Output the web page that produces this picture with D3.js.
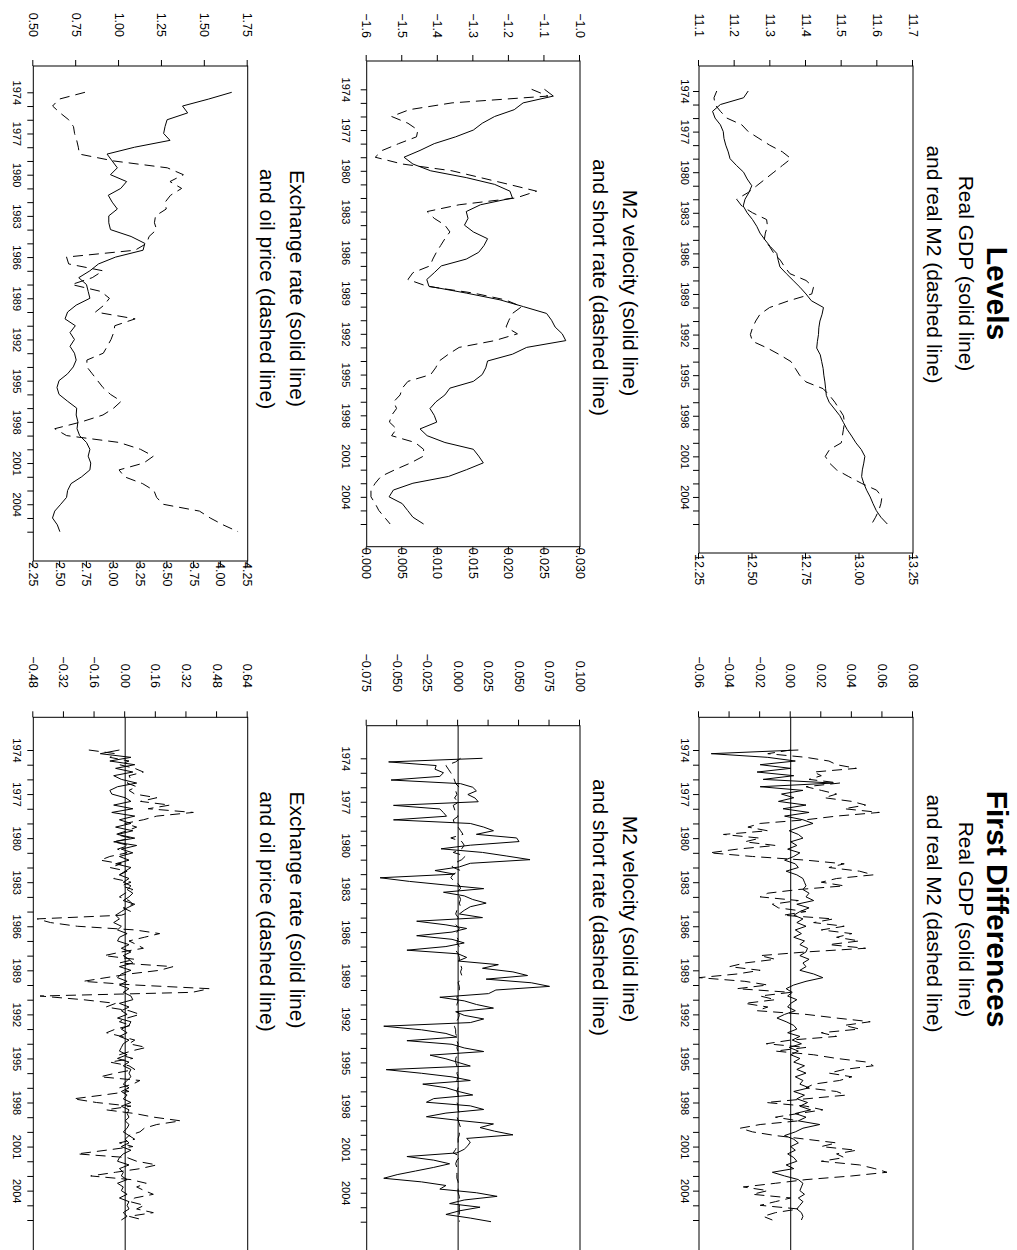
<!DOCTYPE html>
<html>
<head>
<meta charset="utf-8">
<script src="https://cdn.jsdelivr.net/npm/d3@7"></script>
<style>
body { margin:0; background:#fff; }
svg { display:block; }
text { font-family:"Liberation Sans", Arial, Helvetica, sans-serif; fill:#000; }
</style>
</head>
<body>
<div id="chart"></div>
<script>
// time axis: levels are read every half year, differences every quarter, both from 1974.0
const START = 1974;
const LEVEL_STEP = 0.5;
const DIFF_STEP = 0.25;
const yearTicks = d3.range(1974, 2007);
const yearLabels = d3.range(1974, 2005, 3);

// ---- levels ----
const gdpLevel = [11.238,11.225,11.16,11.138,11.145,11.16,11.168,11.17,11.175,11.182,11.187,11.205,11.225,11.235,
  11.248,11.24,11.229,11.224,11.235,11.25,11.262,11.271,11.285,11.3,11.318,11.322,11.327,11.345,11.364,11.383,
  11.4,11.415,11.449,11.445,11.439,11.436,11.435,11.432,11.43,11.44,11.444,11.448,11.45,11.453,11.455,11.457,
  11.465,11.48,11.495,11.505,11.515,11.528,11.54,11.555,11.565,11.562,11.558,11.556,11.562,11.57,11.58,11.588,
  11.597,11.61,11.628];
const m2Level = [12.333,12.32,12.325,12.35,12.38,12.45,12.48,12.53,12.58,12.64,12.68,12.64,12.6,12.56,12.52,12.48,
  12.426,12.45,12.5,12.566,12.57,12.56,12.555,12.58,12.6,12.63,12.65,12.675,12.75,12.785,12.777,12.67,12.58,
  12.535,12.515,12.5,12.49,12.5,12.57,12.628,12.68,12.7,12.72,12.75,12.83,12.86,12.885,12.905,12.925,12.93,
  12.925,12.92,12.915,12.86,12.84,12.86,12.893,12.95,13.01,13.08,13.105,13.1,13.09,13.075,13.057];
const velLevel = [-1.1,-1.075,-1.16,-1.185,-1.24,-1.275,-1.3,-1.35,-1.41,-1.45,-1.495,-1.47,-1.42,-1.32,-1.24,-1.197,
  -1.19,-1.28,-1.32,-1.315,-1.325,-1.3,-1.26,-1.27,-1.285,-1.32,-1.39,-1.41,-1.431,-1.425,-1.32,-1.225,-1.159,
  -1.094,-1.08,-1.07,-1.05,-1.04,-1.15,-1.19,-1.26,-1.265,-1.275,-1.3,-1.366,-1.38,-1.405,-1.422,-1.41,-1.403,
  -1.45,-1.43,-1.38,-1.3,-1.285,-1.272,-1.319,-1.37,-1.47,-1.525,-1.537,-1.5,-1.485,-1.47,-1.44];
const rateLevel = [0.0232,0.0255,0.012,0.006,0.0035,0.0058,0.0072,0.007,0.0045,0.0022,0.0012,0.005,0.012,0.016,
  0.02,0.0239,0.021,0.013,0.0085,0.0095,0.011,0.0117,0.011,0.0104,0.0098,0.0093,0.0089,0.0065,0.0058,0.0085,
  0.015,0.0195,0.0218,0.0205,0.02,0.0196,0.0212,0.018,0.013,0.0115,0.0102,0.0097,0.009,0.0058,0.005,0.0047,
  0.0038,0.0042,0.0035,0.0032,0.0042,0.0035,0.0068,0.008,0.008,0.0062,0.004,0.002,0.0012,0.0006,0.0006,0.0012,
  0.0017,0.0025,0.0033];
const exchLevel = [1.657,1.52,1.37,1.4,1.28,1.268,1.26,1.297,1.09,0.93,0.96,0.99,0.95,1.044,1.01,0.937,0.96,0.99,
  0.94,0.94,0.95,1.07,1.15,1.14,0.98,0.88,0.83,0.765,0.81,0.82,0.83,0.75,0.7,0.685,0.745,0.714,0.74,0.714,0.74,
  0.75,0.733,0.7,0.65,0.638,0.65,0.7,0.753,0.75,0.76,0.755,0.77,0.81,0.83,0.82,0.835,0.83,0.782,0.72,0.7,0.694,
  0.66,0.625,0.612,0.64,0.655];
const oilLevel = [2.732,2.49,2.43,2.5,2.58,2.625,2.635,2.655,2.67,2.68,3.0,3.5,3.65,3.525,3.634,3.53,3.48,3.49,3.39,
  3.38,3.4,3.33,3.308,3.2,2.56,2.58,2.9,2.8,2.608,2.88,2.96,2.91,2.83,3.2,3.01,3.0,2.975,2.94,2.903,2.75,2.75,
  2.8,2.85,2.9,2.97,3.07,3.0,2.9,2.7,2.45,2.56,3.05,3.25,3.37,3.28,3.05,3.1,3.27,3.375,3.4,3.46,3.8,3.9,4.02,4.16];

// ---- first differences (one row per year, quarters 1-4) ----
const gdpDiff = [
  0.005,-0.052,-0.015,0.003, -0.02,0,-0.022,0.002, -0.018,0.028,-0.02,0.008, -0.006,0.002,-0.008,0.01,
  -0.005,0.012,-0.004,0.008, 0.0146,0.006,-0.001,0.005, 0.008,0,0.004,-0.002, 0.006,0.002,-0.004,0.003,
  0.005,-0.003,0.004,0.008, 0.009,0.01,0.008,0.012, 0.01,0.015,0.004,0.012, 0.006,0.002,0.008,0.004,
  0.01,0.003,0.007,0.002, 0.009,0.006,0.011,0.01, 0.006,0.012,0.008,0.01, 0.006,0.015,0.021,0.01,
  0.002,-0.003,0.001,-0.002, 0.004,0,-0.002,0.003, -0.004,-0.009,-0.003,0.002, 0.004,-0.002,0.006,0.001,
  0.007,-0.001,0.005,0, 0.006,0.002,0.009,0.004, 0.01,0.003,0.008,0.006, 0.012,0.002,0.009,0.004,
  0.011,0.006,0.013,0.003, 0.01,0.005,0.019,0.008, 0.003,-0.004,0.002,0.005, 0,0.003,-0.002,0.002,
  0.004,-0.003,0.002,-0.012, -0.004,0.005,0.008,0.007, 0.006,0.009,0.005,0.008, 0.006,0.004,0.007,0.008,
  0.007];
const m2Diff = [
  0,-0.015,0.01,0.025, 0.03,0.043,0.015,0.02, 0.012,0.032,0.01,0.02, 0.03,0.022,0.04,0.049,
  0.035,0.058,0.03,0.01, -0.02,-0.028,-0.015,-0.044, -0.02,-0.03,-0.01,-0.035, -0.053,-0.025,0.01,0.035,
  0.025,0.045,0.054,0.03, 0.02,0.035,0.005,-0.015, -0.02,0.005,-0.012,-0.008, 0.01,-0.005,0.028,0.015,
  0.035,0.02,0.04,0.03, 0.045,0.025,0.049,0.01, -0.02,-0.01,-0.03,-0.04, -0.02,-0.035,-0.06,-0.03,
  -0.015,-0.035,0,-0.02, -0.01,-0.03,-0.015,-0.022, 0.01,0.03,0.052,0.035, 0.045,0.02,0.03,0,
  -0.016,0.01,-0.01,0.015, 0.03,0.05,0.054,0.035, 0.025,0.04,0.032,0.015, 0.01,0.03,0.036,0.01,
  -0.016,0.01,0.021,0.005, -0.01,0.005,-0.02,-0.033, -0.025,-0.01,0.01,0.03, 0.02,0.043,0.03,0.035,
  0.02,0.045,0.055,0.063, 0.04,0.01,-0.01,-0.031, -0.015,-0.025,0,-0.01, -0.02,0.005,-0.01,-0.018,
  -0.012];
const velDiff = [
  0.02,-0.057,-0.018,-0.019, -0.012,-0.015,-0.055,0.002, 0.012,0.015,0.008,0.014, 0.0165,-0.053,-0.015,-0.012,
  -0.0095,-0.053,0.01,0.021, 0.029,0.015,0.048,0.05, 0.01,-0.014,0.02,0.04, 0.059,0.01,0.001,-0.019,
  -0.003,-0.064,-0.04,-0.01, 0.021,-0.012,0.005,0.012, 0.023,0.01,0.005,0.001, 0.02,-0.034,-0.01,0.007,
  -0.005,-0.034,-0.005,0.005, -0.01,-0.042,0,0.007, 0,0.033,0.02,0.045, 0.057,0.023,0.06,0.075,
  0.031,0.025,-0.015,0.005, 0.015,0.029,-0.002,0.005, 0.021,0.01,-0.061,-0.03, -0.01,-0.001,-0.042,-0.005,
  0.005,0.021,-0.023,-0.01, 0,0.01,-0.059,-0.03, -0.005,0.01,-0.029,-0.01, 0,0.012,-0.02,-0.026,
  0.01,0.021,-0.01,-0.026, 0,0.029,0.018,0.03, 0.045,0.007,0.01,0.008, 0.005,-0.001,-0.042,-0.02,
  -0.007,-0.02,-0.035,-0.05, -0.061,-0.03,-0.01,-0.015, 0.015,0.032,0.005,-0.007, 0.018,0.001,-0.01,0.01,
  0.027];
const rateDiff = [
  0.002,-0.002,-0.01,-0.008, -0.006,-0.004,-0.003,-0.002, 0.001,-0.002,-0.001,-0.003, 0.001,-0.004,-0.003,-0.002,
  0,-0.004,-0.003,0, 0.002,0.004,-0.006,0.003, 0.005,0.003,-0.004,0.006, 0.003,-0.003,-0.005,0.002,
  -0.004,-0.006,-0.003,0.001, 0.002,-0.001,0.001,0.002, 0.001,0.002,-0.001,-0.002, 0,-0.001,-0.002,0.001,
  -0.001,-0.002,0,-0.001, 0.001,-0.002,0,0.001, 0.001,0.002,0.003,0.002, 0.003,0.002,0,0.001,
  0.001,0,-0.001,0, -0.001,-0.001,0,0.001, 0,-0.002,-0.003,-0.002, -0.002,-0.001,-0.001,0,
  -0.001,0,-0.001,-0.002, -0.002,-0.001,0,-0.001, 0,-0.001,0,0, -0.001,0,0,-0.001,
  0,0,0.001,-0.001, 0,0.001,0.002,0.001, 0.001,0,0,-0.001, -0.002,-0.004,0.002,-0.001,
  -0.002,-0.001,-0.001,-0.001, -0.001,0,0,0, 0,0.001,0.001,0.001, 0.001,0.001,0.001,0.001,
  0.001];
const exchDiff = [
  -0.03,-0.13,0.03,-0.08, 0.05,-0.05,0.04,-0.06, -0.02,0.06,-0.04,-0.08, -0.07,0,0.03,-0.06,
  0.04,-0.07,0.05,-0.03, 0.03,-0.05,0.04,-0.04, 0.05,-0.06,0.06,-0.02, 0.04,-0.03,0.02,-0.05,
  0.03,0,-0.03,0.02, -0.01,0.03,0.01,0.04, 0.02,-0.01,0.05,0.01, -0.02,-0.05,-0.03,-0.06,
  -0.02,-0.04,0.01,-0.03, -0.04,0.02,-0.02,0.03, -0.01,0.02,0.04,-0.03, 0.03,-0.02,-0.04,0.01,
  -0.03,0.02,-0.01,0.03, 0.04,-0.03,0.02,-0.02, 0.01,-0.04,0.03,0.02, -0.02,0.01,-0.03,0.02,
  -0.01,-0.02,-0.03,0.01, -0.04,0.02,-0.01,0.03, 0.02,0.03,0.01,-0.01, 0.02,-0.02,0.01,-0.01,
  0.03,-0.02,0.02,0.01, 0.02,0,0.02,0.01, -0.01,0.02,0,0.02, -0.02,0.03,-0.01,-0.03,
  -0.04,0.02,-0.03,-0.01, -0.02,0.01,-0.04,-0.01, -0.02,0.01,-0.03,0.02, 0.01,0.02,-0.01,0.01,
  -0.02];
const oilDiff = [
  -0.19,-0.05,-0.08,0.02, -0.03,0.05,0.095,0.02, 0.03,0.01,0.06,0.02, 0.05,0.165,0.08,0.234,
  0.12,0.356,0.165,0.095, -0.002,0.06,0.01,-0.05, 0.03,-0.06,0.02,-0.04, 0.01,-0.08,-0.13,-0.02,
  -0.08,0.01,-0.03,-0.06, 0.03,-0.02,0.04,0, -0.03,0.02,0.04,-0.01, 0.03,-0.02,-0.46,-0.39,
  -0.25,0.05,0.18,0.1, 0.02,0.06,0.095,-0.02, -0.11,0.05,-0.03,0.25, 0.18,0.02,-0.1,-0.22,
  0.05,0.44,0.35,-0.445, -0.22,-0.05,-0.1,0.02, 0.077,0.01,-0.03,0.03, -0.05,-0.097,-0.02,0.05,
  0.02,0.11,0.03,-0.03, 0.04,-0.08,0.02,0.05, -0.05,-0.13,0.077,0.04, -0.03,0.02,-0.12,-0.27,
  -0.15,0.03,-0.1,0.05, 0.15,0.29,0.165,0.1, 0.077,0.02,0.05,-0.03, 0.04,-0.1,-0.25,0.01,
  0.06,0.165,0.08,-0.05, -0.18,0.03,0.11,0.06, 0.1,0.147,0.05,0.025, 0.1,0.06,0.147,0.02,
  0.095];

// ---- texts ----
const columnTitles = ["Levels", "First Differences"];
const rowSubtitles = [
  ["Real GDP (solid line)", "and real M2 (dashed line)"],
  ["M2 velocity (solid line)", "and short rate (dashed line)"],
  ["Exchange rate (solid line)", "and oil price (dashed line)"]
];

// ---- layout (page drawn in landscape, then turned a quarter) ----
const W = 1017, H = 1250;
const svg = d3.select("#chart").append("svg").attr("width", W).attr("height", H);
svg.append("rect").attr("width", W).attr("height", H).attr("fill", "#fff");
const page = svg.append("g").attr("transform", `translate(${W},0) rotate(90)`);

const panels = [
  {box:[66,553,104,318], time:[91,524], left:[11.1,11.7,0.1,".1f",37], right:[12.25,13.25,0.25,".2f"],
   solid:gdpLevel, dashed:m2Level, step:LEVEL_STEP, yearGap:10},
  {box:[61,546.7,437,650.3], time:[89.3,524], left:[-1.6,-1.0,0.1,".1f",38], right:[0,0.03,0.005,".3f"],
   solid:velLevel, dashed:rateLevel, step:LEVEL_STEP, yearGap:17},
  {box:[66,561,769.3,983.7], time:[92.3,531.7], left:[0.5,1.75,0.25,".2f",37], right:[2.25,4.25,0.25,".2f"],
   solid:exchLevel, dashed:oilLevel, step:LEVEL_STEP, yearGap:13},
  {box:[717.3,1262,104,318], time:[750,1220], left:[-0.06,0.08,0.02,".2f",688],
   solid:gdpDiff, dashed:m2Diff, step:DIFF_STEP, yearGap:10},
  {box:[725.7,1262,437,650.3], time:[758.3,1221.7], left:[-0.075,0.1,0.025,".3f",692],
   solid:velDiff, dashed:rateDiff, step:DIFF_STEP, yearGap:17},
  {box:[717.3,1262,769.3,983.7], time:[750,1220], left:[-0.48,0.64,0.16,".2f",688],
   solid:exchDiff, dashed:oilDiff, step:DIFF_STEP, yearGap:13}
];

function tickList(lo, hi, step) {
  const n = Math.round((hi - lo) / step);
  return d3.range(n + 1).map(i => lo + i * step);
}

function styleAxis(sel, size) {
  sel.attr("font-family", '"Liberation Sans", Arial, sans-serif').attr("font-size", size);
  sel.select(".domain").remove();
  sel.selectAll(".tick line").attr("stroke", "#000");
  sel.selectAll(".tick text").attr("fill", "#000");
}

panels.forEach(p => {
  const [x0, x1, y0, y1] = p.box;
  const g = page.append("g");
  const x = d3.scaleLinear().domain([1974, 2006]).range(p.time);
  const yL = d3.scaleLinear().domain([p.left[0], p.left[1]]).range([y1, y0]);

  g.append("g")
    .attr("transform", `translate(${x0},0)`)
    .call(d3.axisLeft(yL).tickValues(tickList(p.left[0], p.left[1], p.left[2]))
      .tickFormat(d3.format(p.left[3])).tickSize(6).tickPadding(x0 - p.left[4] - 6))
    .call(a => styleAxis(a, 12.5));

  let yR = yL;
  if (p.right) {
    yR = d3.scaleLinear().domain([p.right[0], p.right[1]]).range([y1, y0]);
    g.append("g")
      .attr("transform", `translate(${x1},0)`)
      .call(d3.axisRight(yR).tickValues(tickList(p.right[0], p.right[1], p.right[2]))
        .tickFormat(d3.format(p.right[3])).tickSize(6).tickPadding(-5))
      .call(a => styleAxis(a, 12.5));
  } else {
    g.append("line")
      .attr("x1", x0).attr("x2", x1).attr("y1", yL(0)).attr("y2", yL(0))
      .attr("stroke", "#000").attr("stroke-width", 1);
  }

  g.append("g")
    .attr("transform", `translate(0,${y1})`)
    .call(d3.axisBottom(x).tickValues(yearTicks)
      .tickFormat(d => yearLabels.includes(d) ? d : "")
      .tickSize(6).tickPadding(p.yearGap - 6))
    .call(a => styleAxis(a, 11));

  g.append("rect")
    .attr("x", x0).attr("y", y0).attr("width", x1 - x0).attr("height", y1 - y0)
    .attr("fill", "none").attr("stroke", "#000").attr("stroke-width", 1);

  const lineL = d3.line().x((d, i) => x(START + i * p.step)).y(d => yL(d));
  const lineR = d3.line().x((d, i) => x(START + i * p.step)).y(d => yR(d));

  g.append("path").datum(p.solid)
    .attr("fill", "none").attr("stroke", "#000").attr("stroke-width", 1)
    .attr("stroke-linejoin", "round")
    .attr("d", lineL);
  g.append("path").datum(p.dashed)
    .attr("fill", "none").attr("stroke", "#000").attr("stroke-width", 1)
    .attr("stroke-dasharray", "10,6")
    .attr("d", lineR);
});

// titles
const titleX = [293.5, 909];
columnTitles.forEach((t, i) => {
  page.append("text").attr("x", titleX[i]).attr("y", 30)
    .attr("text-anchor", "middle").attr("font-size", 30).attr("font-weight", "bold")
    .text(t);
});

const subX = [[[273.5, 264.5], [293, 287.5], [288.5, 289]],
              [[919.5, 913.5], [919, 907.5], [910, 911.5]]];
const subY = [[57.7, 90], [394, 424], [727, 757]];
[0, 1].forEach(c => {
  rowSubtitles.forEach((pair, r) => {
    pair.forEach((t, k) => {
      page.append("text").attr("x", subX[c][r][k]).attr("y", subY[r][k])
        .attr("text-anchor", "middle").attr("font-size", 21)
        .text(t);
    });
  });
});
</script>
</body>
</html>
